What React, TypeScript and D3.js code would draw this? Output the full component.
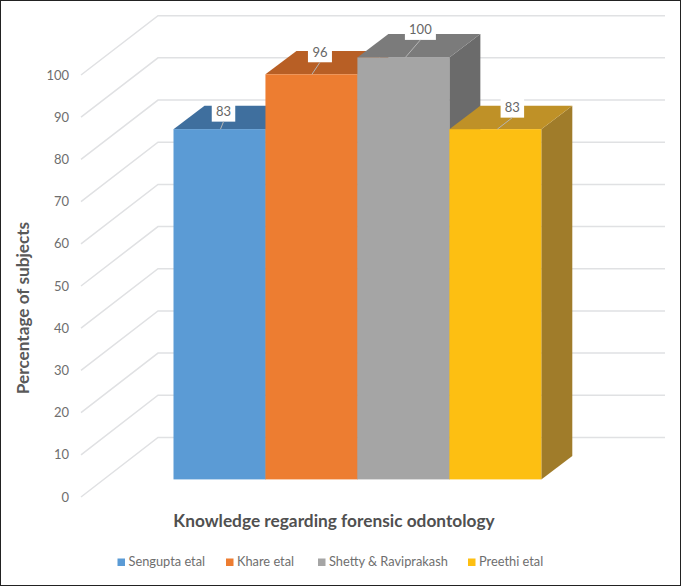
import React from 'react';
import * as d3 from 'd3';

const categories = ['Sengupta etal', 'Khare etal', 'Shetty & Raviprakash', 'Preethi etal'];
const values = [83, 96, 100, 83];
const ticks = [0, 10, 20, 30, 40, 50, 60, 70, 80, 90, 100];
const frontColors = ['#5b9bd5', '#ed7d31', '#a5a5a5', '#fdbf12'];
const topColors = ['#3f6f9e', '#b85f25', '#7b7b7b', '#bf9127'];
const sideColors = ['#386389', '#a3521f', '#6b6b6b', '#a07c2a'];

// label boxes sit by hand in the original, offsets from the bar's front top edge
const labelOffsets = [
  { dx: 50, dy: -17.5, w: 23.5 },
  { dx: 54.5, dy: -22, w: 24 },
  { dx: 63, dy: -27.5, w: 31 },
  { dx: 63, dy: -21.5, w: 23.5 },
];
const legendX = [117.5, 226, 318, 468];

const W = 681;
const H = 586;
const FONT = 'Lato, "Open Sans", sans-serif';

// bars (front face)
const x = d3.scaleBand<string>().domain(categories).range([173.5, 541.3]).padding(0);
const yBar = d3.scaleLinear().domain([0, 100]).range([479.4, 57.4]);
const depth = { x: 31, y: 23.3 };

// grid: side wall front edge and back wall
const yWallFront = d3.scaleLinear().domain([0, 100]).range([497, 75]);
const yWallBack = d3.scaleLinear().domain([0, 100]).range([437.4, 15.7]);
const wallFrontX = 81;
const wallBackX = 158;
const wallRightX = 665;

const poly = (pts: [number, number][]) => d3.line()(pts) + 'Z';

export default function App() {
  return (
    <svg
      width={W}
      height={H}
      viewBox={`0 0 ${W} ${H}`}
      style={{ position: 'absolute', left: 0, top: 0, display: 'block', background: '#fff' }}
      fontFamily={FONT}
    >
      {/* gridlines */}
      <g fill="none" stroke="#e0e1e3" strokeWidth={1.5}>
        {ticks.map(t => (
          <path
            key={t}
            d={d3.line()([
              [wallFrontX, yWallFront(t)],
              [wallBackX, yWallBack(t)],
              [wallRightX, yWallBack(t)],
            ]) as string}
          />
        ))}
      </g>

      {/* tick labels */}
      <g fontSize={13} fill="#6e6e6e" textAnchor="end">
        {ticks.map(t => (
          <text key={t} x={69} y={yWallFront(t)} dy="0.35em">{t}</text>
        ))}
      </g>

      {/* 3d bars */}
      {categories.map((c, i) => {
        const x0 = x(c) as number;
        const x1 = x0 + x.bandwidth();
        const yT = yBar(values[i]);
        const yB = yBar(0);
        return (
          <g key={c}>
            <path
              fill={sideColors[i]}
              d={poly([[x1, yT], [x1 + depth.x, yT - depth.y], [x1 + depth.x, yB - depth.y], [x1, yB]])}
            />
            <path
              fill={topColors[i]}
              d={poly([[x0, yT], [x0 + depth.x, yT - depth.y], [x1 + depth.x, yT - depth.y], [x1, yT]])}
            />
            <rect x={x0} y={yT} width={x.bandwidth()} height={yB - yT} fill={frontColors[i]} />
          </g>
        );
      })}

      {/* data labels with leader lines */}
      {categories.map((c, i) => {
        const o = labelOffsets[i];
        const cx = (x(c) as number) + o.dx;
        const cy = yBar(values[i]) + o.dy;
        return (
          <g key={c}>
            <rect x={cx - o.w / 2} y={cy - 10} width={o.w} height={20} fill="#fff" />
            <line
              x1={cx - (i === 0 ? 3 : i === 1 ? 8 : 15)}
              y1={yBar(values[i])}
              x2={cx}
              y2={cy + 10}
              stroke="#b5b5b5"
              strokeWidth={1}
            />
            <text x={cx} y={cy} dy="0.35em" textAnchor="middle" fontSize={13} fill="#666">
              {values[i]}
            </text>
          </g>
        );
      })}

      {/* axis titles */}
      <text
        transform="translate(22.5,308) rotate(-90)"
        dy="0.35em"
        textAnchor="middle"
        fontSize={17.2}
        fontWeight={700}
        fill="#595959"
      >
        Percentage of subjects
      </text>
      <text x={334} y={521} dy="0.35em" textAnchor="middle" fontSize={17.3} fontWeight={700} fill="#505050">
        Knowledge regarding forensic odontology
      </text>

      {/* legend */}
      {categories.map((c, i) => (
        <g key={c}>
          <rect x={legendX[i]} y={558.5} width={7.5} height={7.5} fill={frontColors[i]} />
          <text x={legendX[i] + 11} y={562} dy="0.35em" fontSize={12.8} fill="#6e6e6e">{c}</text>
        </g>
      ))}

      {/* image frame */}
      <rect x={0.5} y={0.5} width={W - 1} height={H - 1} fill="none" stroke="#222" strokeWidth={1} />
    </svg>
  );
}
